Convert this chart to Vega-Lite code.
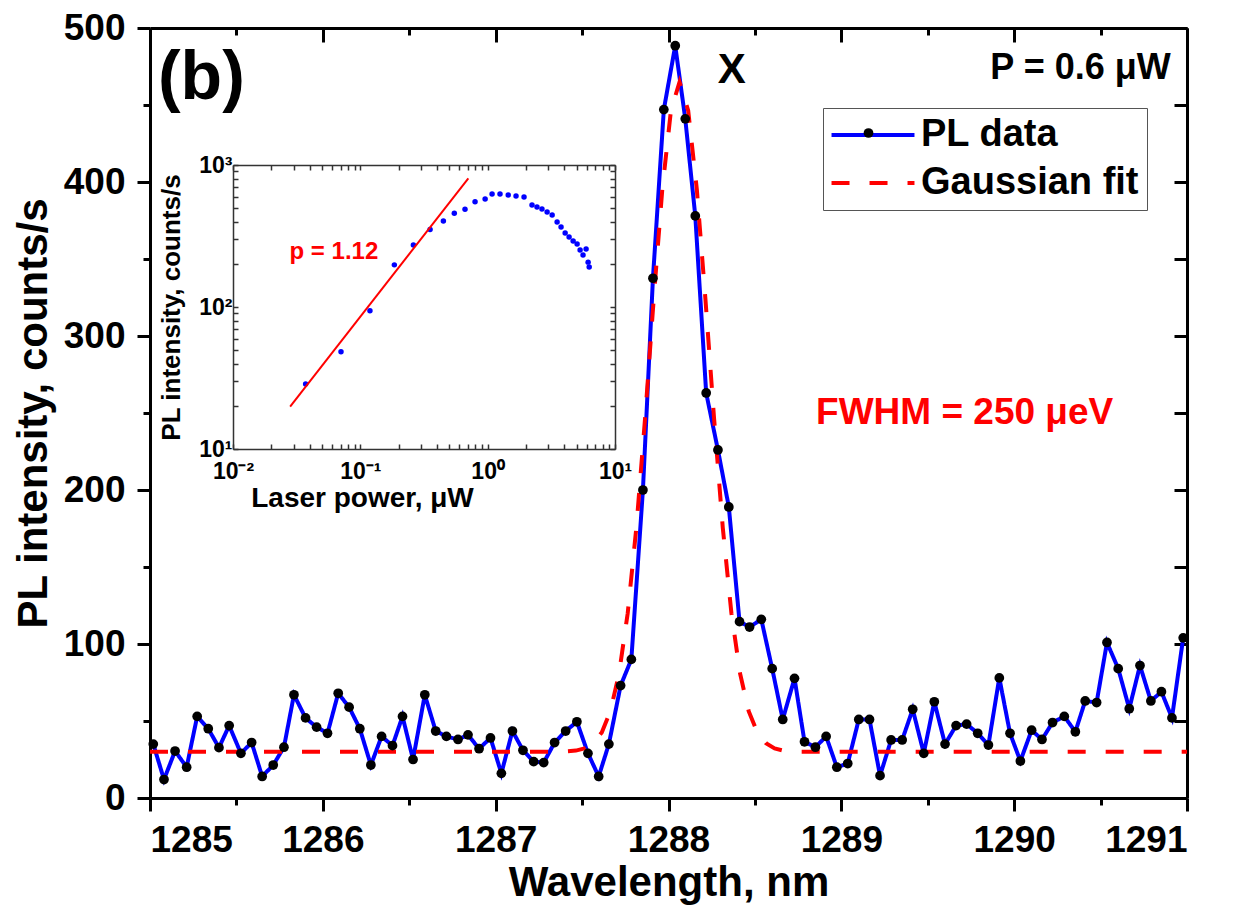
{
  "$schema": "https://vega.github.io/schema/vega-lite/v6.json",
  "width": 1037,
  "height": 770,
  "autosize": {"type": "none"},
  "padding": {"left": 150, "top": 28, "right": 56, "bottom": 115},
  "background": "white",
  "config": {
    "view": {"stroke": null},
    "font": "Liberation Sans",
    "axis": {"grid": false, "labelFont": "Liberation Sans", "titleFont": "Liberation Sans", "labelFontWeight": "bold", "titleFontWeight": "bold", "labelColor": "black", "titleColor": "black", "domainColor": "black", "tickColor": "black"},
    "legend": {"labelFont": "Liberation Sans", "labelFontWeight": "bold", "labelFontSize": 38, "labelColor": "black", "labelLimit": 0},
    "text": {"font": "Liberation Sans", "fontWeight": "bold"}
  },
  "datasets": {
    "main": [
      {"series": "PL data", "wavelength": 1285.019, "intensity": 35},
      {"series": "PL data", "wavelength": 1285.081, "intensity": 12},
      {"series": "PL data", "wavelength": 1285.145, "intensity": 30.5},
      {"series": "PL data", "wavelength": 1285.212, "intensity": 20},
      {"series": "PL data", "wavelength": 1285.273, "intensity": 53},
      {"series": "PL data", "wavelength": 1285.337, "intensity": 45},
      {"series": "PL data", "wavelength": 1285.399, "intensity": 32.7},
      {"series": "PL data", "wavelength": 1285.458, "intensity": 47},
      {"series": "PL data", "wavelength": 1285.526, "intensity": 29},
      {"series": "PL data", "wavelength": 1285.588, "intensity": 36},
      {"series": "PL data", "wavelength": 1285.649, "intensity": 14},
      {"series": "PL data", "wavelength": 1285.713, "intensity": 21.4},
      {"series": "PL data", "wavelength": 1285.775, "intensity": 33},
      {"series": "PL data", "wavelength": 1285.833, "intensity": 67},
      {"series": "PL data", "wavelength": 1285.900, "intensity": 52},
      {"series": "PL data", "wavelength": 1285.964, "intensity": 46},
      {"series": "PL data", "wavelength": 1286.027, "intensity": 42},
      {"series": "PL data", "wavelength": 1286.089, "intensity": 68},
      {"series": "PL data", "wavelength": 1286.152, "intensity": 59},
      {"series": "PL data", "wavelength": 1286.214, "intensity": 45},
      {"series": "PL data", "wavelength": 1286.278, "intensity": 21.4},
      {"series": "PL data", "wavelength": 1286.340, "intensity": 40},
      {"series": "PL data", "wavelength": 1286.403, "intensity": 34},
      {"series": "PL data", "wavelength": 1286.461, "intensity": 53},
      {"series": "PL data", "wavelength": 1286.522, "intensity": 25},
      {"series": "PL data", "wavelength": 1286.590, "intensity": 67},
      {"series": "PL data", "wavelength": 1286.653, "intensity": 43.5},
      {"series": "PL data", "wavelength": 1286.715, "intensity": 40},
      {"series": "PL data", "wavelength": 1286.782, "intensity": 38},
      {"series": "PL data", "wavelength": 1286.840, "intensity": 41},
      {"series": "PL data", "wavelength": 1286.904, "intensity": 32},
      {"series": "PL data", "wavelength": 1286.970, "intensity": 39},
      {"series": "PL data", "wavelength": 1287.033, "intensity": 16},
      {"series": "PL data", "wavelength": 1287.097, "intensity": 43.5},
      {"series": "PL data", "wavelength": 1287.158, "intensity": 31},
      {"series": "PL data", "wavelength": 1287.220, "intensity": 23.6},
      {"series": "PL data", "wavelength": 1287.278, "intensity": 23},
      {"series": "PL data", "wavelength": 1287.341, "intensity": 36},
      {"series": "PL data", "wavelength": 1287.405, "intensity": 43.5},
      {"series": "PL data", "wavelength": 1287.470, "intensity": 49.5},
      {"series": "PL data", "wavelength": 1287.534, "intensity": 29},
      {"series": "PL data", "wavelength": 1287.596, "intensity": 14},
      {"series": "PL data", "wavelength": 1287.655, "intensity": 35},
      {"series": "PL data", "wavelength": 1287.723, "intensity": 73},
      {"series": "PL data", "wavelength": 1287.785, "intensity": 90},
      {"series": "PL data", "wavelength": 1287.852, "intensity": 200},
      {"series": "PL data", "wavelength": 1287.910, "intensity": 337.5},
      {"series": "PL data", "wavelength": 1287.973, "intensity": 447},
      {"series": "PL data", "wavelength": 1288.039, "intensity": 488.5},
      {"series": "PL data", "wavelength": 1288.097, "intensity": 441},
      {"series": "PL data", "wavelength": 1288.155, "intensity": 378},
      {"series": "PL data", "wavelength": 1288.218, "intensity": 263},
      {"series": "PL data", "wavelength": 1288.286, "intensity": 226},
      {"series": "PL data", "wavelength": 1288.349, "intensity": 189},
      {"series": "PL data", "wavelength": 1288.411, "intensity": 114.5},
      {"series": "PL data", "wavelength": 1288.469, "intensity": 111},
      {"series": "PL data", "wavelength": 1288.537, "intensity": 116},
      {"series": "PL data", "wavelength": 1288.600, "intensity": 84},
      {"series": "PL data", "wavelength": 1288.661, "intensity": 51},
      {"series": "PL data", "wavelength": 1288.729, "intensity": 77.7},
      {"series": "PL data", "wavelength": 1288.787, "intensity": 36.5},
      {"series": "PL data", "wavelength": 1288.850, "intensity": 33},
      {"series": "PL data", "wavelength": 1288.912, "intensity": 40},
      {"series": "PL data", "wavelength": 1288.974, "intensity": 20},
      {"series": "PL data", "wavelength": 1289.037, "intensity": 22.4},
      {"series": "PL data", "wavelength": 1289.101, "intensity": 51},
      {"series": "PL data", "wavelength": 1289.163, "intensity": 51},
      {"series": "PL data", "wavelength": 1289.224, "intensity": 14.5},
      {"series": "PL data", "wavelength": 1289.288, "intensity": 37.7},
      {"series": "PL data", "wavelength": 1289.352, "intensity": 37.7},
      {"series": "PL data", "wavelength": 1289.413, "intensity": 57.6},
      {"series": "PL data", "wavelength": 1289.477, "intensity": 29},
      {"series": "PL data", "wavelength": 1289.538, "intensity": 62.5},
      {"series": "PL data", "wavelength": 1289.600, "intensity": 35},
      {"series": "PL data", "wavelength": 1289.664, "intensity": 47},
      {"series": "PL data", "wavelength": 1289.725, "intensity": 48},
      {"series": "PL data", "wavelength": 1289.789, "intensity": 42},
      {"series": "PL data", "wavelength": 1289.851, "intensity": 34.4},
      {"series": "PL data", "wavelength": 1289.914, "intensity": 78},
      {"series": "PL data", "wavelength": 1289.976, "intensity": 42},
      {"series": "PL data", "wavelength": 1290.036, "intensity": 24},
      {"series": "PL data", "wavelength": 1290.101, "intensity": 44},
      {"series": "PL data", "wavelength": 1290.161, "intensity": 38},
      {"series": "PL data", "wavelength": 1290.222, "intensity": 49},
      {"series": "PL data", "wavelength": 1290.290, "intensity": 53},
      {"series": "PL data", "wavelength": 1290.354, "intensity": 43},
      {"series": "PL data", "wavelength": 1290.411, "intensity": 63},
      {"series": "PL data", "wavelength": 1290.477, "intensity": 62},
      {"series": "PL data", "wavelength": 1290.537, "intensity": 101},
      {"series": "PL data", "wavelength": 1290.602, "intensity": 84},
      {"series": "PL data", "wavelength": 1290.666, "intensity": 58},
      {"series": "PL data", "wavelength": 1290.728, "intensity": 86},
      {"series": "PL data", "wavelength": 1290.791, "intensity": 63},
      {"series": "PL data", "wavelength": 1290.852, "intensity": 69},
      {"series": "PL data", "wavelength": 1290.913, "intensity": 52},
      {"series": "PL data", "wavelength": 1290.978, "intensity": 104},
      {"series": "Gaussian fit", "wavelength": 1285.0, "intensity": 30},
      {"series": "Gaussian fit", "wavelength": 1287.364, "intensity": 30},
      {"series": "Gaussian fit", "wavelength": 1287.464, "intensity": 30.8},
      {"series": "Gaussian fit", "wavelength": 1287.514, "intensity": 32.2},
      {"series": "Gaussian fit", "wavelength": 1287.564, "intensity": 35.5},
      {"series": "Gaussian fit", "wavelength": 1287.614, "intensity": 42.6},
      {"series": "Gaussian fit", "wavelength": 1287.664, "intensity": 56.4},
      {"series": "Gaussian fit", "wavelength": 1287.714, "intensity": 80.9},
      {"series": "Gaussian fit", "wavelength": 1287.764, "intensity": 120},
      {"series": "Gaussian fit", "wavelength": 1287.814, "intensity": 175.6},
      {"series": "Gaussian fit", "wavelength": 1287.864, "intensity": 246},
      {"series": "Gaussian fit", "wavelength": 1287.914, "intensity": 323.4},
      {"series": "Gaussian fit", "wavelength": 1287.964, "intensity": 395.1},
      {"series": "Gaussian fit", "wavelength": 1288.014, "intensity": 446.3},
      {"series": "Gaussian fit", "wavelength": 1288.064, "intensity": 465},
      {"series": "Gaussian fit", "wavelength": 1288.114, "intensity": 446.3},
      {"series": "Gaussian fit", "wavelength": 1288.164, "intensity": 395.1},
      {"series": "Gaussian fit", "wavelength": 1288.214, "intensity": 323.4},
      {"series": "Gaussian fit", "wavelength": 1288.264, "intensity": 246},
      {"series": "Gaussian fit", "wavelength": 1288.314, "intensity": 175.6},
      {"series": "Gaussian fit", "wavelength": 1288.364, "intensity": 120},
      {"series": "Gaussian fit", "wavelength": 1288.414, "intensity": 80.9},
      {"series": "Gaussian fit", "wavelength": 1288.464, "intensity": 56.4},
      {"series": "Gaussian fit", "wavelength": 1288.514, "intensity": 42.6},
      {"series": "Gaussian fit", "wavelength": 1288.564, "intensity": 35.5},
      {"series": "Gaussian fit", "wavelength": 1288.614, "intensity": 32.2},
      {"series": "Gaussian fit", "wavelength": 1288.664, "intensity": 30.8},
      {"series": "Gaussian fit", "wavelength": 1288.764, "intensity": 30},
      {"series": "Gaussian fit", "wavelength": 1291.0, "intensity": 30}
    ],
    "inset": [
      {"power": 0.0372, "intensity": 28.7},
      {"power": 0.0705, "intensity": 48.4},
      {"power": 0.119, "intensity": 94.2},
      {"power": 0.185, "intensity": 198},
      {"power": 0.261, "intensity": 273},
      {"power": 0.353, "intensity": 352},
      {"power": 0.449, "intensity": 403},
      {"power": 0.547, "intensity": 457},
      {"power": 0.664, "intensity": 488},
      {"power": 0.796, "intensity": 552},
      {"power": 0.955, "intensity": 576},
      {"power": 1.083, "intensity": 625},
      {"power": 1.25, "intensity": 625},
      {"power": 1.45, "intensity": 615},
      {"power": 1.67, "intensity": 605},
      {"power": 1.93, "intensity": 595},
      {"power": 2.23, "intensity": 522},
      {"power": 2.44, "intensity": 506},
      {"power": 2.67, "intensity": 490},
      {"power": 2.93, "intensity": 467},
      {"power": 3.21, "intensity": 445},
      {"power": 3.51, "intensity": 397},
      {"power": 3.77, "intensity": 366},
      {"power": 4.06, "intensity": 332},
      {"power": 4.36, "intensity": 311},
      {"power": 4.69, "intensity": 292},
      {"power": 5.04, "intensity": 278},
      {"power": 5.32, "intensity": 252},
      {"power": 5.61, "intensity": 232},
      {"power": 5.93, "intensity": 256},
      {"power": 6.15, "intensity": 207},
      {"power": 6.27, "intensity": 191}
    ],
    "insetfit": [
      {"power": 0.0281, "intensity": 19.9},
      {"power": 0.705, "intensity": 806}
    ]
  },
  "layer": [
    {
      "layer": [
        {
          "data": {"name": "main"},
          "mark": {"type": "line", "strokeWidth": 4},
          "encoding": {
            "x": {"field": "wavelength", "type": "quantitative",
                  "scale": {"domain": [1285, 1291], "nice": false, "zero": false},
                  "axis": {"orient": "bottom", "values": [1285, 1286, 1287, 1288, 1289, 1290, 1291], "format": "d", "labelFontSize": 37, "labelPadding": 11, "tickSize": 13, "tickWidth": 3, "domainWidth": 3, "title": "Wavelength, nm", "titleFontSize": 42, "titlePadding": 4}},
            "y": {"field": "intensity", "type": "quantitative",
                  "scale": {"domain": [0, 500], "nice": false},
                  "axis": {"orient": "left", "values": [0, 100, 200, 300, 400, 500], "format": "d", "labelFontSize": 37, "labelPadding": 12, "tickSize": 13, "tickWidth": 3, "domainWidth": 3, "title": "PL intensity, counts/s", "titleFontSize": 42, "titlePadding": 8}},
            "color": {"field": "series", "type": "nominal",
                      "scale": {"domain": ["PL data", "Gaussian fit"], "range": ["#0000ff", "#ff0000"]},
                      "legend": {"orient": "none", "legendX": 673, "legendY": 80, "title": null, "symbolType": "M-4,0H4", "symbolSize": 430, "symbolStrokeWidth": 4, "symbolOffset": 23, "labelOffset": 29, "padding": 8, "rowPadding": 10, "strokeColor": "#555", "fillColor": "white"}},
            "strokeDash": {"field": "series", "type": "nominal",
                      "scale": {"domain": ["PL data", "Gaussian fit"], "range": [[1, 0], [18, 20]]},
                      "legend": {"orient": "none", "legendX": 673, "legendY": 80, "title": null, "symbolType": "M-4,0H4", "symbolSize": 430, "symbolStrokeWidth": 4, "symbolOffset": 23, "labelOffset": 29, "padding": 8, "rowPadding": 10, "strokeColor": "#555", "fillColor": "white"}}
          }
        },
        {
          "data": {"name": "main"},
          "transform": [{"filter": "datum.series === 'PL data'"}],
          "mark": {"type": "point", "filled": true, "color": "black", "size": 95, "opacity": 1},
          "encoding": {
            "x": {"field": "wavelength", "type": "quantitative",
                  "axis": {"orient": "bottom", "values": [1285.5, 1286.5, 1287.5, 1288.5, 1289.5, 1290.5], "labels": false, "tickSize": 7, "tickWidth": 3, "domain": false, "title": null}},
            "y": {"field": "intensity", "type": "quantitative",
                  "axis": {"orient": "left", "values": [50, 150, 250, 350, 450], "labels": false, "tickSize": 7, "tickWidth": 3, "domain": false, "title": null}},
            "shape": {"datum": "PL data", "type": "nominal", "scale": {"range": ["circle"]},
                      "legend": {"orient": "none", "legendX": 673, "legendY": 78, "title": null, "symbolSize": 95, "symbolStrokeWidth": 1, "symbolFillColor": "black", "symbolStrokeColor": "black", "symbolOffset": 18.5, "labelExpr": "''", "labelOffset": 0, "padding": 8}}
          }
        },
        {
          "data": {"values": [{"label": "(b)", "wavelength": 1285.046, "intensity": 467}]},
          "mark": {"type": "text", "fontSize": 68, "align": "left", "baseline": "middle", "color": "black"},
          "encoding": {
            "x": {"field": "wavelength", "type": "quantitative",
                  "axis": {"orient": "top", "values": [1285, 1286, 1287, 1288, 1289, 1290, 1291], "labels": false, "tickSize": -14, "tickWidth": 3, "domainWidth": 3, "title": null}},
            "y": {"field": "intensity", "type": "quantitative",
                  "axis": {"orient": "right", "values": [0, 50, 100, 150, 200, 250, 300, 350, 400, 450, 500], "labels": false, "tickSize": -13, "tickWidth": 3, "domainWidth": 3, "title": null}},
            "text": {"field": "label"}
          }
        },
        {
          "data": {"values": [{"label": "X", "wavelength": 1288.366, "intensity": 473}]},
          "mark": {"type": "text", "fontSize": 42, "align": "center", "baseline": "middle", "color": "black"},
          "encoding": {
            "x": {"field": "wavelength", "type": "quantitative",
                  "axis": {"orient": "top", "values": [1285.5, 1286.5, 1287.5, 1288.5, 1289.5, 1290.5], "labels": false, "tickSize": -7, "tickWidth": 3, "domain": false, "title": null}},
            "y": {"field": "intensity", "type": "quantitative", "axis": null},
            "text": {"field": "label"}
          }
        },
        {
          "data": {"values": [{"label": "P = 0.6 μW", "wavelength": 1290.906, "intensity": 474}]},
          "mark": {"type": "text", "fontSize": 36, "align": "right", "baseline": "middle", "color": "black"},
          "encoding": {
            "x": {"field": "wavelength", "type": "quantitative", "axis": null},
            "y": {"field": "intensity", "type": "quantitative", "axis": null},
            "text": {"field": "label"}
          }
        },
        {
          "data": {"values": [{"label": "FWHM = 250 μeV", "wavelength": 1288.854, "intensity": 250}]},
          "mark": {"type": "text", "fontSize": 37, "align": "left", "baseline": "middle", "color": "#ff0000"},
          "encoding": {
            "x": {"field": "wavelength", "type": "quantitative", "axis": null},
            "y": {"field": "intensity", "type": "quantitative", "axis": null},
            "text": {"field": "label"}
          }
        }
      ],
      "resolve": {"axis": {"x": "independent", "y": "independent"}}
    },
    {
      "layer": [
        {
          "data": {"name": "inset"},
          "mark": {"type": "point", "filled": true, "color": "#0000ff", "size": 30, "opacity": 1},
          "encoding": {
            "x": {"field": "power", "type": "quantitative",
                  "scale": {"type": "log", "domain": [0.01, 10], "range": [83, 465], "nice": false},
                  "axis": {"orient": "bottom", "offset": -349, "tickSize": -5, "tickWidth": 1.5, "tickColor": "#333", "domainColor": "#333", "domainWidth": 1.5,
                           "labelExpr": "abs(datum.value-0.01)<1e-6 ? '10⁻²' : abs(datum.value-0.1)<1e-6 ? '10⁻¹' : abs(datum.value-1)<1e-6 ? '10⁰' : abs(datum.value-10)<1e-6 ? '10¹' : ''",
                           "labelFontSize": 23, "labelPadding": 16, "labelOverlap": false, "labelFlush": false, "title": "Laser power, μW", "titleFontSize": 28, "titlePadding": 1, "titleX": 212}},
            "y": {"field": "intensity", "type": "quantitative",
                  "scale": {"type": "log", "domain": [10, 1000], "range": [421, 137], "nice": false},
                  "axis": {"orient": "left", "offset": -83, "tickSize": -5, "tickWidth": 1.5, "tickColor": "#333", "domainColor": "#333", "domainWidth": 1.5,
                           "labelExpr": "abs(datum.value-10)<1e-6 ? '10¹' : abs(datum.value-100)<1e-6 ? '10²' : abs(datum.value-1000)<1e-6 ? '10³' : ''",
                           "labelFontSize": 23, "labelPadding": 6, "labelOverlap": false, "labelFlush": false, "title": "PL intensity, counts/s", "titleFontSize": 26, "titlePadding": 14}}
          }
        },
        {
          "data": {"name": "insetfit"},
          "mark": {"type": "line", "color": "#ff0000", "strokeWidth": 2},
          "encoding": {
            "x": {"field": "power", "type": "quantitative",
                  "axis": {"orient": "top", "offset": -137, "tickSize": -5, "tickWidth": 1.5, "tickColor": "#333", "domainColor": "#333", "domainWidth": 1.5, "labels": false, "title": null}},
            "y": {"field": "intensity", "type": "quantitative",
                  "axis": {"orient": "right", "offset": -572, "tickSize": -5, "tickWidth": 1.5, "tickColor": "#333", "domainColor": "#333", "domainWidth": 1.5, "labels": false, "title": null}}
          }
        },
        {
          "data": {"values": [{"label": "p = 1.12", "power": 0.062, "intensity": 245}]},
          "mark": {"type": "text", "fontSize": 24, "align": "center", "baseline": "middle", "color": "#ff0000"},
          "encoding": {
            "x": {"field": "power", "type": "quantitative", "axis": null},
            "y": {"field": "intensity", "type": "quantitative", "axis": null},
            "text": {"field": "label"}
          }
        }
      ],
      "resolve": {"axis": {"x": "independent", "y": "independent"}}
    }
  ],
  "resolve": {"scale": {"x": "independent", "y": "independent"}, "axis": {"x": "independent", "y": "independent"}}
}
